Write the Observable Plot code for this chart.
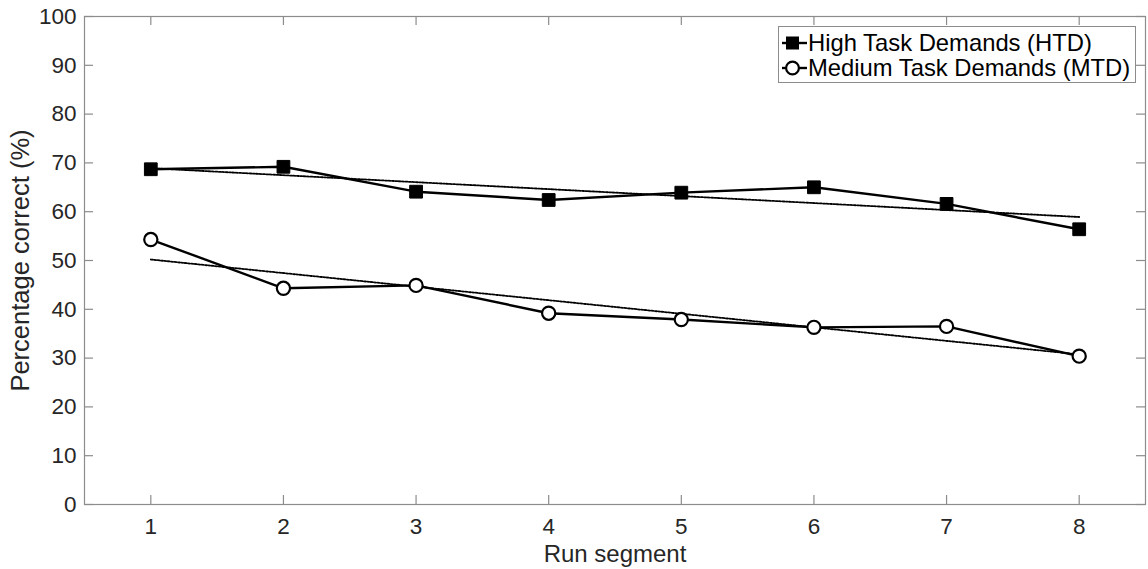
<!DOCTYPE html>
<html>
<head>
<meta charset="utf-8">
<script src="https://cdn.jsdelivr.net/npm/d3@7"></script>
<script src="https://cdn.jsdelivr.net/npm/@observablehq/plot@0.6"></script>
<style>
  html, body { margin: 0; padding: 0; background: #fff; }
  #wrap { position: relative; width: 1148px; height: 569px; font-family: "Liberation Sans", Arial, sans-serif; }
  #legend { position: absolute; left: 778px; top: 26px; width: 358px; height: 57px; border: 1px solid #8c8c8c; background: #fff; box-sizing: border-box; }
  .row { position: absolute; left: 0; height: 26px; display: flex; align-items: center; font-size: 23.8px; color: #000; white-space: nowrap; }
  .row svg { display: block; }
</style>
</head>
<body>
<div id="wrap"></div>
<script>
const segments = [1, 2, 3, 4, 5, 6, 7, 8];
const seriesNames = ["High Task Demands (HTD)", "Medium Task Demands (MTD)"];
const htdValues = [68.7, 69.2, 64.1, 62.4, 63.9, 65.0, 61.6, 56.4];
const mtdValues = [54.3, 44.3, 44.9, 39.2, 37.9, 36.3, 36.5, 30.4];
const xTicks = [1, 2, 3, 4, 5, 6, 7, 8];
const yTicks = [0, 10, 20, 30, 40, 50, 60, 70, 80, 90, 100];
const xLabel = "Run segment";
const yLabel = "Percentage correct (%)";

const data = [
  ...segments.map((s, i) => ({segment: s, value: htdValues[i], series: seriesNames[0]})),
  ...segments.map((s, i) => ({segment: s, value: mtdValues[i], series: seriesNames[1]}))
];
const htd = data.filter(d => d.series === seriesNames[0]);
const mtd = data.filter(d => d.series === seriesNames[1]);

const W = 1148, H = 569, mL = 84, mR = 3, mT = 16, mB = 65;
const plotW = W - mL - mR, plotH = H - mT - mB;
const gray = "#8c8c8c";
const tickLen = 9;

const chart = Plot.plot({
  width: W, height: H,
  marginLeft: mL, marginRight: mR, marginTop: mT, marginBottom: mB,
  style: {fontFamily: "'Liberation Sans', Arial, sans-serif", background: "#fff", color: "#262626"},
  x: {domain: [0.5, 8.5]},
  y: {domain: [0, 100]},
  marks: [
    Plot.frame({stroke: gray, strokeWidth: 1.2}),
    // inward ticks on all four sides
    Plot.tickX(xTicks, {x: d => d, stroke: gray, strokeWidth: 1.2, insetTop: plotH - tickLen}),
    Plot.tickX(xTicks, {x: d => d, stroke: gray, strokeWidth: 1.2, insetBottom: plotH - tickLen}),
    Plot.tickY(yTicks, {y: d => d, stroke: gray, strokeWidth: 1.2, insetRight: plotW - tickLen}),
    Plot.tickY(yTicks, {y: d => d, stroke: gray, strokeWidth: 1.2, insetLeft: plotW - tickLen}),
    Plot.axisX({ticks: xTicks, tickSize: 0, tickPadding: 14, fontSize: 22.5, tickFormat: d3.format("d"), label: null}),
    Plot.axisY({ticks: yTicks, tickSize: 0, tickPadding: 8, fontSize: 22.5, tickFormat: d3.format("d"), label: null}),
    // axis titles
    Plot.text([xLabel], {text: d => d, frameAnchor: "bottom", dy: 50, fontSize: 24, fill: "#262626", lineAnchor: "middle", textAnchor: "middle"}),
    Plot.text([yLabel], {text: d => d, frameAnchor: "left", dx: -64, rotate: -90, fontSize: 25.5, fill: "#262626", lineAnchor: "middle", textAnchor: "middle"}),
    // dotted linear trend lines
    Plot.linearRegressionY(htd, {x: "segment", y: "value", ci: 0, stroke: "#000", strokeWidth: 1.8, strokeDasharray: "2,1.4"}),
    Plot.linearRegressionY(mtd, {x: "segment", y: "value", ci: 0, stroke: "#000", strokeWidth: 1.8, strokeDasharray: "2,1.4"}),
    // data lines
    Plot.line(data, {x: "segment", y: "value", z: "series", stroke: "#000", strokeWidth: 2.4}),
    Plot.dot(htd, {x: "segment", y: "value", symbol: "square", r: 7.2, fill: "#000", stroke: "#000", strokeWidth: 1}),
    Plot.dot(mtd, {x: "segment", y: "value", symbol: "circle", r: 6.6, fill: "#fff", stroke: "#000", strokeWidth: 2.2})
  ]
});
const wrap = document.getElementById("wrap");
wrap.appendChild(chart);

// legend
const legend = document.createElement("div");
legend.id = "legend";
seriesNames.forEach((name, i) => {
  const row = document.createElement("div");
  row.className = "row";
  row.style.top = (i === 0 ? 3 : 28) + "px";
  const marker = i === 0
    ? '<rect x="7" y="6.5" width="13" height="13" fill="#000"/>'
    : '<circle cx="13.5" cy="13" r="6.4" fill="#fff" stroke="#000" stroke-width="2.2"/>';
  row.innerHTML = '<svg width="29" height="26"><line x1="3" x2="28" y1="13" y2="13" stroke="#000" stroke-width="2.4"/>' + marker + '</svg><span>' + name + '</span>';
  legend.appendChild(row);
});
wrap.appendChild(legend);
</script>
</body>
</html>
